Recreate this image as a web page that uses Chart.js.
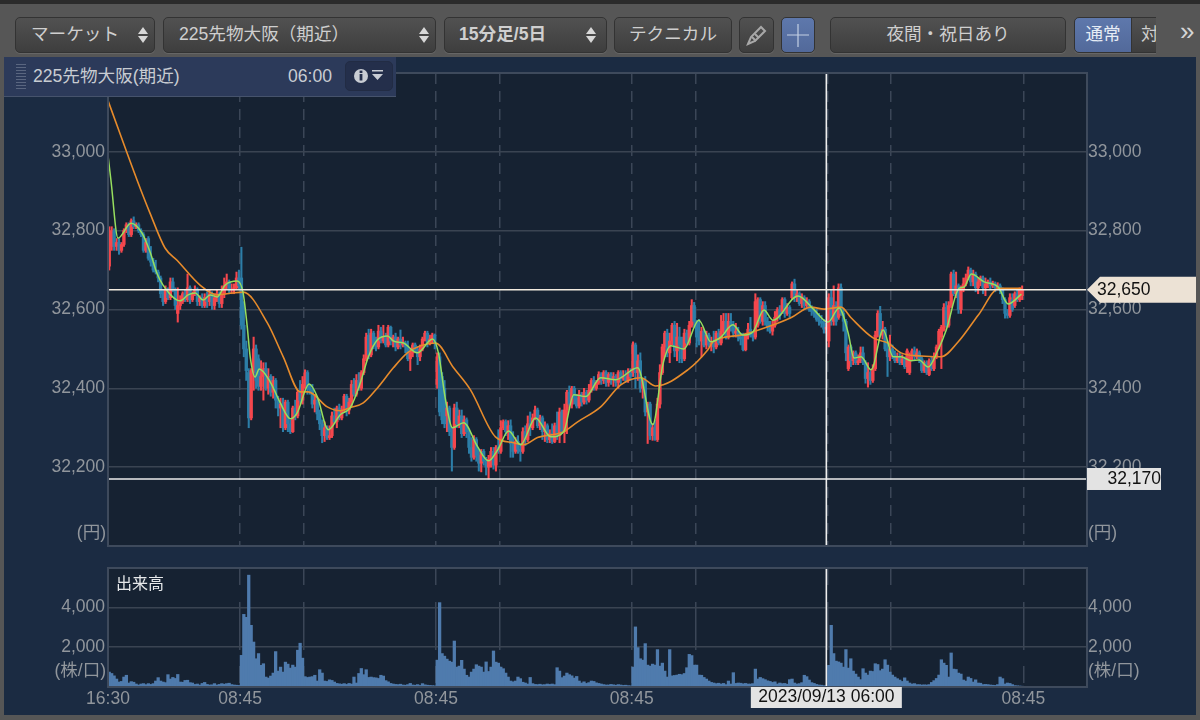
<!DOCTYPE html>
<html lang="ja"><head><meta charset="utf-8">
<script src="https://cdn.jsdelivr.net/npm/chart.js@4"></script>
<style>
html,body{margin:0;padding:0;width:1200px;height:720px;overflow:hidden;background:#565656;font-family:"Liberation Sans","Noto Sans CJK JP",sans-serif}
#topline{position:absolute;left:0;top:0;width:1200px;height:4px;background:#2b2b2b}
#panel{position:absolute;left:4px;top:57px;width:1192px;height:658px;background:#1b2b42}
canvas{position:absolute;left:0}
.b{position:absolute;top:17px;height:34px;line-height:33px;box-sizing:content-box;border:1px solid #333;border-radius:5px;background:linear-gradient(#515151,#3e3e3e);color:#cfcfcf;font-size:17.6px;white-space:nowrap;box-shadow:0 1px 0 #666}
.b span.t{position:absolute;top:0}
.arrows{position:absolute;top:9px;width:10px;height:16px}
.arrows:before,.arrows:after{content:"";position:absolute;left:0;border-left:5.5px solid transparent;border-right:5.5px solid transparent}
.arrows:before{top:0;border-bottom:7px solid #d8d8d8}
.arrows:after{bottom:0;border-top:7px solid #d8d8d8}
.on{background:linear-gradient(#5e78ac,#52699a);color:#e6ecf5}
#info{position:absolute;left:4px;top:57px;width:392px;height:39px;background:#2c3a5a;border-bottom:1px solid #46536c;color:#c8ccd2;font-size:17.6px}
#info .a{position:absolute;top:9px;line-height:20px}
#grip{position:absolute;left:12px;top:6px;width:10px;height:26px;background:repeating-linear-gradient(0deg,#5a6680 0 1px,transparent 1px 3px)}
#ibtn{position:absolute;left:341px;top:4px;width:46px;height:28px;border:1px solid #222c44;border-radius:5px;background:#242f4b}
</style></head><body>
<div id="topline"></div>
<div id="panel"></div>
<canvas id="main" width="1200" height="510" style="top:57px"></canvas>
<canvas id="vol" width="1200" height="170" style="top:550px"></canvas>
<div class="b" style="left:15px;width:138px"><span class="t" style="left:15px">マーケット</span><i class="arrows" style="left:122px"></i></div>
<div class="b" style="left:163px;width:271px"><span class="t" style="left:15px">225先物大阪（期近）</span><i class="arrows" style="left:255px"></i></div>
<div class="b" style="left:444px;width:161px;font-weight:bold"><span class="t" style="left:14px">15分足/5日</span><i class="arrows" style="left:141px"></i></div>
<div class="b" style="left:614px;width:116px"><span class="t" style="left:14px">テクニカル</span></div>
<div class="b" style="left:739px;width:33px"><svg width="33" height="34" style="position:absolute;left:0;top:0"><g stroke="#a8a8a8" stroke-width="2" fill="none"><path d="M8 26l3-7L21 9l4 4-10 10z"/><path d="M12 19l4 4M15 16l4 4"/></g></svg></div>
<div class="b on" style="left:781px;width:32px"><svg width="32" height="34" style="position:absolute;left:0;top:0"><path d="M16 6v23M5 17h22" stroke="#c4d0e4" stroke-width="1.2"/></svg></div>
<div class="b" style="left:830px;width:234px;text-align:center">夜間・祝日あり</div>
<div class="b on" style="left:1074px;width:56px;text-align:center;border-radius:5px 0 0 5px">通常</div>
<div class="b" style="left:1131px;width:24px;border-radius:0;border-right:0;overflow:hidden"><span class="t" style="left:9px">対比</span></div>
<div style="position:absolute;left:1180px;top:14px;color:#d5d5d5;font-size:26px;line-height:34px">»</div>
<div id="info"><div id="grip"></div><div class="a" style="left:29px">225先物大阪(期近)</div><div class="a" style="left:284px">06:00</div>
<div id="ibtn"><svg width="46" height="28"><circle cx="15" cy="14" r="7" fill="#c9cdd4"/><rect x="13.6" y="12" width="2.8" height="6.5" fill="#242f4b"/><rect x="13.6" y="8.6" width="2.8" height="2.4" fill="#242f4b"/><path d="M26 8h11v1.6H26zM26 12h11l-5.5 6z" fill="#c9cdd4"/></svg></div></div>
<script>
const opens=[
32710,32760,32800,32760,32770,32750,32765,32800,32815,32790,
32825,32810,32815,32800,32790,32750,32780,32730,32720,32700,
32695,32680,32640,32620,32650,32630,32670,32650,32590,32610,
32620,32640,32625,32655,32625,32640,32650,32620,32630,32610,
32630,32620,32640,32610,32630,32640,32615,32640,32660,32670,
32650,32650,32655,32680,
32680,32560,32500,32440,32325,32440,32500,32475,32405,32430,
32450,32400,32430,32390,32420,32370,32350,32360,32300,32365,
32310,32290,32350,32330,32390,32370,
32410,32440,32400,32395,32360,32370,32335,32310,32280,32300,
32275,32280,32330,32315,32350,32325,32345,32380,32345,32365,
32410,32385,32420,32400,32440,32475,32535,32485,32540,32510,
32505,32545,32520,32530,32510,32555,32520,32530,32505,32525,
32510,32515,32505,32475,32490,32510,32495,32480,32500,32525,
32540,32515,32520,32535,
32410,32480,32430,32400,32330,32350,32295,32250,32350,32310,
32330,32285,32320,32290,32250,32225,32270,32230,32210,32240,
32215,32200,32220,32240,32205,32250,
32240,32300,32315,32290,32305,32260,32240,32265,32245,32240,
32290,32270,32310,32300,32325,32345,32305,32325,32290,32305,
32270,32285,32265,32305,32280,32340,32290,32345,32390,32360,
32400,32375,32355,32385,32365,32390,32370,32395,32420,32400,
32415,32435,32420,32440,32415,32435,32425,32430,32415,32440,
32425,32430,32420,32440,
32440,32510,32440,32470,32400,32420,32340,32360,32280,32300,
32270,32360,32440,32505,32540,32490,32520,32560,32495,32530,
32510,32475,32540,32515,32560,32610,
32570,32530,32520,32545,32510,32535,32510,32515,32505,32540,
32515,32545,32570,32530,32570,32560,32540,32545,32530,32535,
32498,32535,32550,32535,32530,32560,32625,32570,32610,32570,
32555,32545,32560,32580,32600,32595,32625,32590,32605,32630,
32665,32630,32640,32615,32630,32610,32620,32600,32595,32590,
32575,32570,32565,32550,
32520,32630,32570,32610,32580,32655,32590,32570,32450,32505,
32470,32490,32465,32470,32490,32465,32425,32440,32420,32450,
32535,32590,32535,32550,32500,32480,
32500,32485,32470,32480,32465,32475,32455,32440,32480,32495,
32480,32490,32475,32445,32465,32435,32470,32450,32480,32505,
32530,32548,32605,32560,32610,32690,32640,32660,32600,32650,
32665,32680,32700,32670,32690,32655,32670,32680,32655,32665,
32670,32660,32665,32655,32660,32650,32625,32590,32585,32625,
32610,32640,32625,32635];
const closes=[
32760,32800,32760,32770,32750,32765,32800,32815,32790,32825,
32810,32815,32800,32790,32750,32770,32730,32720,32700,32695,
32680,32640,32620,32650,32630,32670,32650,32610,32610,32620,
32640,32625,32655,32625,32640,32650,32620,32630,32610,32630,
32620,32640,32610,32630,32640,32615,32640,32660,32670,32650,
32650,32655,32680,32660,
32560,32500,32445,32325,32445,32500,32420,32405,32430,32450,
32400,32430,32390,32420,32370,32350,32360,32300,32365,32310,
32290,32350,32330,32390,32370,32410,
32440,32400,32395,32360,32370,32335,32310,32280,32300,32275,
32280,32330,32315,32350,32325,32345,32380,32345,32365,32410,
32385,32420,32400,32440,32475,32530,32485,32540,32510,32505,
32545,32520,32530,32510,32555,32520,32530,32505,32525,32510,
32515,32505,32475,32490,32510,32495,32480,32500,32525,32540,
32515,32525,32535,32515,
32480,32340,32320,32310,32350,32290,32250,32350,32310,32330,
32285,32320,32290,32250,32225,32270,32230,32210,32240,32215,
32200,32220,32240,32205,32250,32240,
32300,32315,32290,32305,32260,32240,32265,32245,32240,32290,
32270,32310,32300,32325,32345,32305,32325,32290,32305,32270,
32285,32265,32305,32280,32340,32290,32345,32390,32360,32400,
32375,32355,32385,32365,32390,32370,32395,32420,32400,32415,
32435,32420,32440,32415,32435,32425,32430,32415,32440,32425,
32430,32420,32440,32430,
32510,32440,32470,32400,32420,32340,32360,32280,32300,32270,
32360,32440,32505,32540,32490,32520,32560,32495,32530,32510,
32475,32540,32515,32560,32610,32570,
32530,32520,32545,32510,32535,32510,32515,32505,32540,32515,
32545,32570,32530,32570,32560,32540,32545,32530,32525,32498,
32535,32550,32535,32530,32620,32625,32570,32610,32570,32555,
32545,32560,32580,32600,32585,32625,32590,32605,32590,32665,
32630,32640,32615,32630,32610,32620,32600,32595,32590,32575,
32570,32565,32550,32555,
32630,32570,32610,32570,32655,32590,32570,32490,32505,32470,
32490,32465,32470,32490,32465,32425,32440,32420,32450,32535,
32590,32535,32550,32500,32480,32500,
32485,32470,32480,32465,32475,32455,32495,32480,32495,32480,
32490,32475,32445,32465,32440,32470,32450,32480,32505,32545,
32555,32605,32560,32610,32690,32640,32660,32600,32650,32665,
32680,32700,32670,32690,32655,32670,32680,32655,32665,32670,
32660,32665,32655,32660,32650,32625,32590,32585,32630,32600,
32640,32625,32650,32650];
const highs=[
32810,32810,32805,32780,32780,32770,32805,32820,32820,32830,
32835,32820,32820,32805,32795,32780,32785,32760,32730,32725,
32700,32685,32650,32660,32655,32680,32680,32655,32655,32635,
32645,32650,32690,32660,32645,32660,32655,32635,32640,32640,
32645,32650,32645,32640,32650,32645,32660,32680,32690,32675,
32665,32665,32695,32700,
32758,32620,32520,32450,32450,32530,32510,32485,32470,32465,
32465,32450,32435,32430,32425,32380,32375,32375,32370,32370,
32320,32355,32370,32395,32420,32430,
32447,32445,32410,32410,32385,32375,32345,32320,32315,32305,
32305,32340,32350,32355,32360,32355,32385,32385,32375,32420,
32425,32435,32440,32445,32485,32540,32550,32550,32545,32530,
32560,32555,32560,32540,32560,32558,32535,32540,32530,32548,
32530,32520,32520,32500,32515,32515,32505,32510,32530,32545,
32545,32535,32540,32538,
32490,32490,32440,32420,32365,32355,32300,32360,32365,32345,
32345,32330,32325,32295,32275,32280,32275,32245,32245,32245,
32225,32230,32250,32250,32255,32295,
32318,32320,32320,32318,32320,32290,32275,32280,32260,32300,
32305,32330,32340,32335,32355,32350,32332,32330,32315,32310,
32295,32310,32312,32340,32350,32345,32360,32395,32406,32405,
32405,32385,32395,32390,32400,32395,32410,32425,32430,32420,
32442,32440,32445,32445,32440,32440,32440,32435,32445,32445,
32445,32445,32450,32450,
32518,32515,32485,32490,32425,32430,32365,32365,32310,32320,
32375,32460,32512,32545,32550,32540,32565,32570,32565,32555,
32530,32550,32548,32570,32625,32618,
32573,32575,32555,32550,32545,32540,32530,32545,32545,32550,
32585,32590,32590,32590,32590,32570,32565,32555,32540,32540,
32540,32565,32580,32545,32640,32630,32630,32620,32620,32580,
32570,32570,32595,32605,32610,32630,32630,32615,32610,32670,
32677,32650,32645,32640,32635,32630,32625,32610,32605,32600,
32590,32585,32575,32565,
32640,32650,32660,32620,32665,32665,32600,32575,32510,32510,
32495,32495,32485,32505,32505,32470,32465,32445,32460,32545,
32597,32608,32570,32555,32520,32535,
32510,32495,32490,32490,32485,32480,32500,32490,32500,32505,
32500,32495,32480,32470,32470,32475,32480,32490,32510,32550,
32560,32615,32620,32620,32695,32700,32695,32665,32660,32680,
32690,32708,32705,32700,32695,32680,32685,32685,32680,32675,
32680,32672,32670,32668,32665,32655,32630,32600,32640,32640,
32645,32650,32655,32660];
const lows=[
32700,32750,32750,32750,32740,32745,32760,32795,32785,32785,
32805,32805,32795,32785,32745,32745,32725,32710,32695,32690,
32670,32630,32610,32615,32625,32625,32645,32600,32568,32600,
32615,32620,32620,32615,32620,32635,32610,32610,32605,32605,
32605,32610,32600,32600,32620,32605,32605,32630,32650,32640,
32640,32640,32650,32650,
32550,32480,32420,32300,32320,32395,32400,32395,32395,32370,
32395,32385,32380,32375,32350,32330,32300,32290,32295,32290,
32285,32288,32320,32325,32360,32360,
32400,32385,32385,32350,32340,32320,32295,32262,32265,32270,
32270,32275,32310,32300,32320,32320,32340,32330,32335,32355,
32380,32380,32395,32395,32435,32470,32475,32480,32500,32495,
32500,32515,32515,32505,32505,32510,32505,32495,32500,32500,
32505,32490,32470,32445,32480,32490,32460,32470,32495,32520,
32505,32510,32515,32500,
32400,32330,32310,32300,32290,32280,32190,32245,32300,32300,
32275,32280,32275,32235,32215,32220,32215,32190,32188,32205,
32180,32170,32200,32195,32190,32235,
32235,32295,32280,32270,32225,32225,32235,32235,32215,32235,
32255,32265,32280,32295,32320,32300,32295,32270,32265,32262,
32262,32260,32262,32270,32262,32285,32262,32285,32350,32350,
32360,32350,32350,32355,32360,32360,32365,32390,32395,32395,
32410,32410,32412,32405,32405,32410,32405,32405,32400,32410,
32420,32415,32415,32420,
32430,32400,32420,32390,32375,32330,32260,32270,32268,32268,
32265,32350,32435,32480,32480,32465,32510,32480,32470,32465,
32465,32470,32510,32510,32555,32555,
32505,32510,32480,32505,32500,32505,32495,32490,32500,32510,
32510,32540,32525,32525,32545,32530,32530,32520,32510,32495,
32495,32525,32530,32520,32525,32555,32565,32560,32560,32545,
32540,32535,32555,32570,32575,32590,32580,32585,32580,32625,
32620,32620,32610,32605,32600,32605,32595,32585,32580,32570,
32560,32555,32540,32540,
32505,32560,32560,32560,32575,32585,32545,32470,32445,32455,
32460,32460,32460,32465,32460,32413,32403,32410,32415,32445,
32530,32530,32525,32495,32430,32470,
32475,32465,32465,32460,32460,32450,32440,32435,32470,32470,
32475,32465,32440,32440,32435,32432,32445,32445,32475,32500,
32450,32545,32555,32555,32605,32635,32630,32590,32590,32645,
32660,32675,32660,32660,32645,32640,32660,32640,32635,32655,
32650,32655,32645,32650,32640,32615,32578,32578,32580,32595,
32605,32620,32620,32625];
const volumes=[
750,680,560,400,250,280,500,590,200,270,
240,150,100,150,170,120,170,130,170,300,
470,300,250,220,620,400,480,430,630,250,
240,330,340,220,200,130,150,100,180,230,
130,100,110,170,100,130,170,140,170,190,
120,100,90,80,
1590,3650,3500,5620,3100,2260,1420,1680,1090,1170,
500,450,550,700,1780,800,1000,750,1250,1150,
950,1100,1000,1850,2200,1450,
520,480,500,520,590,300,870,700,300,280,
360,330,250,180,160,140,170,130,180,150,
500,200,680,930,620,870,480,500,470,460,
430,590,550,320,260,180,150,130,120,140,
100,90,120,180,100,90,120,80,170,110,
90,80,70,60,
1350,4240,1680,1550,1400,1300,1250,2310,1000,1050,
1340,900,590,500,750,900,1120,1050,1000,750,
1260,780,1000,1810,1250,1200,
1000,920,700,500,300,260,300,500,420,240,
200,150,480,170,130,120,140,110,120,150,
130,150,120,970,800,470,550,700,620,560,
450,530,300,200,260,180,220,300,280,210,
180,150,120,100,100,130,110,90,120,100,
80,90,70,60,
1000,3020,1980,1420,1350,2180,1100,1050,1150,1100,
1880,1050,1200,800,500,1880,560,580,600,640,
620,680,970,1640,1580,1100,
1100,600,590,480,400,300,230,200,170,190,
150,180,120,300,150,720,180,200,190,160,
180,150,150,170,900,400,480,420,370,310,
280,230,260,150,200,170,180,140,370,400,
200,150,170,220,590,520,350,220,180,130,
100,90,70,60,
1090,3100,1680,1300,1260,1200,1000,1880,950,1420,
800,650,500,370,920,700,600,800,780,1170,
1130,820,900,1370,1100,750,
600,500,420,350,280,460,300,200,150,170,
120,120,100,110,100,120,230,320,430,600,
1370,1200,1090,500,1710,900,880,700,650,350,
300,500,430,250,360,200,190,120,130,120,
100,90,80,120,500,420,150,200,180,120,
70,60,50,40];
const shortX=[0,1.2,4.1,9.4,13.9,17.2,20,22.5,29.5,32.7,35.6,38.9,41.7,44.6,47.9,52.8,55.2,56.9,58.1,60.1,61.8,66.3,70.4,74.5,77.3,82.2,85.5,90,94.9,99,103.1,106.4,110.1,114.2,116.6,120.7,126.4,132.6,135,137.9,140.8,145.3,151,155.5,159.2,163.7,168.6,174.7,180.9,186.2,190.3,195.2,201.3,207.4,216.4,222.6,226.7,230,235.3,241.4,246.3,250.4,255.3,259.4,263.5,268,271.7,281.9,288.5,294.2,298.7,302.4,304.8,307.7,311.8,316.7,320.8,324,328.2,331.4,335.1,339.2,342.5,347.8,349.8,352.7,358,363.7,367.8,373.2];
const shortY=[32991,32928,32781,32819,32794,32746,32692,32662,32622,32637,32642,32624,32637,32632,32662,32672,32642,32556,32480,32429,32449,32416,32363,32323,32338,32411,32379,32295,32333,32351,32414,32480,32523,32533,32520,32515,32490,32525,32490,32371,32300,32313,32252,32216,32244,32292,32257,32325,32277,32290,32384,32379,32427,32422,32452,32308,32460,32508,32500,32573,32518,32530,32561,32535,32543,32599,32573,32634,32599,32568,32604,32541,32477,32480,32447,32548,32480,32480,32470,32472,32454,32498,32548,32654,32657,32690,32670,32657,32614,32639];
const longX=[0,11.9,17.2,23.3,28.2,37.6,44.6,51.1,55.2,65.1,71.6,78.6,81.8,89.6,94.9,99,104.3,110.1,116.6,122.3,127.7,133.8,141.2,148.1,158.3,165.7,169.8,175.5,186.2,191.9,201.3,209.5,217.7,223.8,236.9,245.1,247.5,258.6,269.6,279,287.2,292.6,299.5,303.6,312.6,318.7,324,332.2,340.4,347.4,355.6,364.2,373.2];
const longY=[33130,32928,32844,32756,32725,32662,32637,32642,32644,32566,32480,32391,32391,32353,32343,32351,32363,32401,32452,32490,32508,32515,32452,32396,32277,32262,32257,32275,32290,32315,32353,32409,32427,32406,32447,32498,32520,32535,32556,32579,32606,32601,32606,32579,32528,32515,32490,32482,32480,32518,32586,32654,32654];
const priceTicks=[32200,32400,32600,32800,33000];
const volumeTicks=[0,2000,4000];
const gridSlots=[54,80,134,160,214,240,294,320,374];
const labelSlots=[0,54,80,134,160,214,240,294,320,374];
const slotLabels={0:"16:30",54:"08:45",134:"08:45",214:"08:45",294:"08:45",374:"08:45"};
const lastPrice=32650, lowPrice=32170, crossSlot=293.5;
const crossLabel="2023/09/13 06:00";

if(new Set([opens.length,closes.length,highs.length,lows.length,volumes.length]).size!==1||opens.length!==374)
  throw new Error("len "+[opens.length,closes.length,highs.length,lows.length,volumes.length]);

const UP="#f5474d",DOWN="#2c7ea8",GRID="#3a4452",FRAME="#3e4a5c",TXT="#91969c";
const FONT='"Liberation Sans","Noto Sans CJK JP",sans-serif';
const barColor=c=>{const i=c.dataIndex;return closes[i]>=opens[i]?UP:DOWN};
const slot=i=>i+0.5;
const fmt=v=>Number(v).toLocaleString("en-US");
const setTicks=vals=>a=>{a.ticks=vals.map(v=>({value:v}))};
const frame=id=>({id,beforeDraw(c){const a=c.chartArea,g=c.ctx;g.save();g.fillStyle="#162232";g.fillRect(a.left,a.top,a.width,a.height);g.restore()},
 afterDatasetsDraw(c){const a=c.chartArea,g=c.ctx;g.save();g.strokeStyle=FRAME;g.lineWidth=2;g.strokeRect(a.left,a.top,a.width,a.height);g.restore()}});

new Chart(document.getElementById("main"),{
 data:{datasets:[
  {type:"line",order:1,data:[{x:0,y:lastPrice},{x:400,y:lastPrice}],borderColor:"#f2ebdf",borderWidth:1.6,pointRadius:0},
  {type:"line",order:1,data:[{x:0,y:lowPrice},{x:400,y:lowPrice}],borderColor:"#ececec",borderWidth:1.6,pointRadius:0},
  {type:"line",order:1,data:[{x:crossSlot,y:32000},{x:crossSlot,y:33200}],borderColor:"#eeeeee",borderWidth:1.6,pointRadius:0},
  {type:"line",order:2,data:shortX.map((x,i)=>({x,y:shortY[i]})),borderColor:"#97df5e",borderWidth:1.5,pointRadius:0,cubicInterpolationMode:"monotone"},
  {type:"line",order:3,data:longX.map((x,i)=>({x,y:longY[i]})),borderColor:"#e78b2b",borderWidth:1.6,pointRadius:0,cubicInterpolationMode:"monotone"},
  {type:"bar",order:4,grouped:false,barThickness:2.7,data:opens.map((o,i)=>({x:slot(i),y:[o,closes[i]]})),backgroundColor:barColor},
  {type:"bar",order:5,grouped:false,barThickness:1.4,data:highs.map((h,i)=>({x:slot(i),y:[lows[i],h]})),backgroundColor:barColor}
 ]},
 options:{responsive:false,animation:false,events:[],
  layout:{padding:{top:16,bottom:21,left:0,right:0}},
  plugins:{legend:{display:false},tooltip:{enabled:false}},
  scales:{
   x:{type:"linear",offset:false,min:0,max:400,afterBuildTicks:setTicks(gridSlots),ticks:{display:false},grid:{offset:false,color:"#3b4657",lineWidth:1.5,drawTicks:false},border:{display:false,dash:[11,7]}},
   y:{type:"linear",position:"left",min:32000,max:33200,afterBuildTicks:setTicks(priceTicks),afterFit:a=>{a.width=108},
      ticks:{color:TXT,font:{size:17.5,family:FONT},padding:3,callback:fmt},grid:{color:GRID,lineWidth:1.5,drawTicks:false},border:{display:false}},
   yr:{type:"linear",position:"right",min:32000,max:33200,afterBuildTicks:setTicks(priceTicks),afterFit:a=>{a.width=113},
      ticks:{color:TXT,font:{size:17.5,family:FONT},padding:1,callback:fmt},grid:{display:false,drawTicks:false},border:{display:false}}
  }},
 plugins:[frame("f1"),{id:"tags",afterDraw(c){
  const g=c.ctx,y=c.scales.y,a=c.chartArea;g.save();
  g.font="17.5px "+FONT;g.fillStyle=TXT;g.textBaseline="middle";
  g.textAlign="right";g.fillText("(円)",106,a.bottom-13);
  g.textAlign="left";g.fillText("(円)",1088,a.bottom-13);
  const p=y.getPixelForValue(lastPrice);
  g.fillStyle="#ecE2d5";g.beginPath();g.moveTo(a.right,p);g.lineTo(a.right+13,p-13);g.lineTo(1196,p-13);g.lineTo(1196,p+13);g.lineTo(a.right+13,p+13);g.closePath();g.fill();
  g.fillStyle="#111";g.textAlign="left";g.fillText(fmt(lastPrice),1097,p+0.5);
  const q=y.getPixelForValue(lowPrice);
  g.fillStyle="#e3e3e3";g.fillRect(a.right,q-11,74,22);
  g.fillStyle="#111";g.textAlign="right";g.fillText(fmt(lowPrice),1161,q+0.5);
  g.restore();
 }}]
});

new Chart(document.getElementById("vol"),{
 data:{datasets:[
  {type:"line",order:1,data:[{x:crossSlot,y:0},{x:crossSlot,y:5980}],borderColor:"#eeeeee",borderWidth:1.6,pointRadius:0},
  {type:"bar",order:2,barThickness:2.6,data:volumes.map((v,i)=>({x:slot(i),y:v})),backgroundColor:"#4f7bad"}
 ]},
 options:{responsive:false,animation:false,events:[],
  layout:{padding:{top:18,bottom:0,left:0,right:0}},
  plugins:{legend:{display:false},tooltip:{enabled:false}},
  scales:{
   x:{type:"linear",offset:false,min:0,max:400,afterBuildTicks:setTicks(labelSlots),afterFit:a=>{a.height=33},
      ticks:{autoSkip:false,maxRotation:0,minRotation:0,color:TXT,font:{size:17.5,family:FONT},padding:2,callback:v=>slotLabels[v]||""},
      grid:{offset:false,color:c=>c.tick&&c.tick.value===0?"rgba(0,0,0,0)":"#3b4657",lineWidth:1.5,drawTicks:false},border:{display:false,dash:[17,17,48,16]}},
   y:{type:"linear",position:"left",min:0,max:5980,afterBuildTicks:setTicks(volumeTicks),afterFit:a=>{a.width=108},
      ticks:{color:TXT,font:{size:17.5,family:FONT},padding:3,callback:v=>v?fmt(v):""},grid:{color:GRID,lineWidth:1.5,drawTicks:false},border:{display:false}},
   yr:{type:"linear",position:"right",min:0,max:5980,afterBuildTicks:setTicks(volumeTicks),afterFit:a=>{a.width=113},
      ticks:{color:TXT,font:{size:17.5,family:FONT},padding:1,callback:v=>v?fmt(v):""},grid:{display:false,drawTicks:false},border:{display:false}}
  }},
 plugins:[frame("f2"),{id:"labels",afterDraw(c){
  const g=c.ctx,a=c.chartArea,x=c.scales.x.getPixelForValue(crossSlot);g.save();
  g.textBaseline="middle";g.font="17.5px "+FONT;g.fillStyle=TXT;
  g.textAlign="right";g.fillText("(株/口)",106,a.bottom-16);
  g.textAlign="left";g.fillText("(株/口)",1088,a.bottom-16);
  g.fillStyle="#e6e8ea";g.textAlign="left";g.font="16px "+FONT;g.fillText("出来高",116,a.top+17);
  g.fillStyle="#e3e3e3";g.fillRect(x-75.5,a.bottom,151,21);
  g.fillStyle="#111";g.textAlign="center";g.font="17.5px "+FONT;g.fillText(crossLabel,x,a.bottom+10.5);
  g.restore();
 }}]
});
</script>
</body></html>
